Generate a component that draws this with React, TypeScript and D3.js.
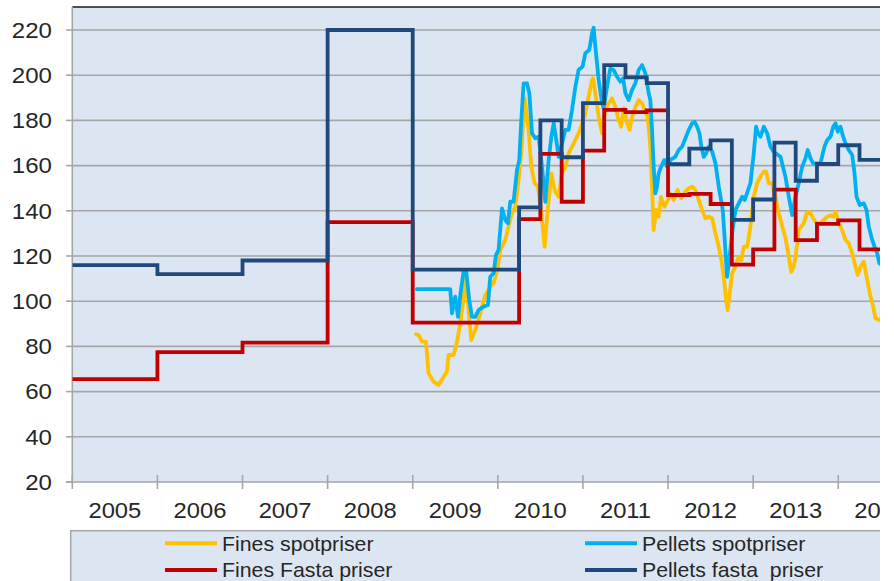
import React from 'react';
import * as d3 from 'd3';

// year axis
const years = [2005, 2006, 2007, 2008, 2009, 2010, 2011, 2012, 2013, 2014];
const yTicks = [20, 40, 60, 80, 100, 120, 140, 160, 180, 200, 220];

// fixed prices (step series), start of each price period
const fixedDates = [2005, 2006, 2007, 2008, 2009, 2010.25, 2010.5, 2010.75, 2011, 2011.25, 2011.5, 2011.75,
    2012, 2012.25, 2012.5, 2012.75, 2013, 2013.25, 2013.5, 2013.75, 2014, 2014.25, 2014.5];
const finesFixed = [65.5, 77.5, 81.7, 135, 90.5, 136.3, 165.2, 144, 166.6, 184.7, 183.7, 184.4,
    147, 147.5, 143, 116.2, 122.9, 149.4, 127, 134.2, 135.8, 122.9, 122.9];
const pelletsFixed = [116, 112, 118, 220, 114, 141.5, 180, 163.7, 187.6, 204.5, 199, 196.5,
    160.6, 167.5, 171.2, 136, 145, 170.2, 153.3, 160.7, 169, 162.5, 162.5];

// spot prices [decimal year, value]
const finesSpot: [number, number][] = [
    [2009.04, 85.4], [2009.07, 85], [2009.11, 82.1], [2009.155, 82.1], [2009.186, 68.1], [2009.245, 64.4],
    [2009.303, 62.9], [2009.343, 65.4], [2009.402, 68.8], [2009.421, 76.2], [2009.48, 76.2], [2009.52, 82.1],
    [2009.559, 90.2], [2009.597, 101.3], [2009.629, 110.8], [2009.656, 96.1], [2009.688, 82.8], [2009.735, 87.3],
    [2009.794, 94.6], [2009.853, 102.7], [2009.911, 106.4], [2009.95, 107.9], [2009.99, 113], [2010.029, 122.7],
    [2010.088, 127.1], [2010.126, 133], [2010.166, 138.9], [2010.205, 141.8], [2010.244, 153.6], [2010.276, 165.4],
    [2010.315, 189.8], [2010.362, 175.8], [2010.393, 159.5], [2010.432, 152.2], [2010.472, 150.7], [2010.511, 138.9],
    [2010.55, 124.1], [2010.59, 141.8], [2010.629, 156.6], [2010.667, 149.2], [2010.714, 146.2], [2010.754, 156.6],
    [2010.793, 159.5], [2010.832, 165.4], [2010.891, 169.9], [2010.931, 172.8], [2010.981, 177.2], [2011.028, 183.1],
    [2011.067, 190.5], [2011.107, 197.9], [2011.119, 198.6], [2011.146, 192], [2011.185, 181.6], [2011.225, 174.3],
    [2011.263, 184.6], [2011.302, 187.6], [2011.342, 189.8], [2011.381, 186], [2011.42, 180.2], [2011.448, 177.2],
    [2011.479, 185.4], [2011.519, 178.7], [2011.549, 175.8], [2011.577, 181.6], [2011.616, 186], [2011.655, 189],
    [2011.695, 187.6], [2011.734, 183.9], [2011.761, 181.6], [2011.792, 168.4], [2011.812, 150.7], [2011.831, 131.5],
    [2011.86, 140.4], [2011.89, 137.4], [2011.918, 146.2], [2011.957, 141.8], [2011.989, 144], [2012.028, 147.7],
    [2012.066, 144.8], [2012.113, 149.2], [2012.153, 145.5], [2012.204, 148.5], [2012.243, 150], [2012.283, 150.7],
    [2012.322, 149.2], [2012.36, 144.8], [2012.4, 140.4], [2012.439, 136.7], [2012.478, 137.4], [2012.518, 136.7],
    [2012.557, 130], [2012.596, 124.1], [2012.627, 118.2], [2012.654, 110.8], [2012.683, 100.5], [2012.701, 96.1],
    [2012.725, 103.5], [2012.753, 112.3], [2012.792, 115.3], [2012.831, 119.7], [2012.862, 118.2], [2012.889, 124.1],
    [2012.929, 124.1], [2012.968, 133], [2013.007, 146.2], [2013.047, 152.2], [2013.086, 155.1], [2013.125, 157.3],
    [2013.153, 157.3], [2013.183, 152.2], [2013.223, 152.2], [2013.262, 146.2], [2013.301, 138.9], [2013.321, 136],
    [2013.38, 128], [2013.419, 119.7], [2013.447, 113], [2013.477, 115.3], [2013.509, 122.7], [2013.536, 131.5],
    [2013.564, 133], [2013.595, 134.5], [2013.627, 138.9], [2013.666, 139.6], [2013.705, 136.7], [2013.744, 134.5],
    [2013.783, 134.5], [2013.83, 135.9], [2013.87, 137.4], [2013.909, 138.1], [2013.941, 137.4], [2013.968, 139.6],
    [2014.006, 134.5], [2014.046, 131.5], [2014.085, 127.1], [2014.124, 125.6], [2014.164, 121.2], [2014.203, 115.3],
    [2014.23, 111.6], [2014.262, 115.3], [2014.3, 117.5], [2014.34, 109.4], [2014.371, 103.5], [2014.411, 97.6],
    [2014.438, 92.4], [2014.477, 91.7], [2014.52, 93]
];

const pelletsSpot: [number, number][] = [
    [2009.049, 105.3], [2009.441, 105.3], [2009.461, 94.6], [2009.5, 102], [2009.532, 93.1], [2009.559, 102.7],
    [2009.597, 113], [2009.629, 113], [2009.664, 100.5], [2009.696, 93.1], [2009.735, 93.1], [2009.774, 96.1],
    [2009.833, 97.6], [2009.884, 98.3], [2009.911, 110.8], [2009.95, 112.3], [2009.978, 120.4], [2010.009, 122.7],
    [2010.049, 141.1], [2010.088, 135.9], [2010.119, 134.5], [2010.146, 144], [2010.185, 144], [2010.225, 158],
    [2010.252, 162.5], [2010.276, 180.2], [2010.303, 196.4], [2010.343, 196.4], [2010.37, 192], [2010.402, 174.3],
    [2010.44, 172.1], [2010.479, 172.8], [2010.511, 162.5], [2010.538, 152.2], [2010.558, 144], [2010.597, 162.5],
    [2010.629, 172.8], [2010.656, 178.7], [2010.687, 171.3], [2010.714, 163.9], [2010.746, 168.4], [2010.793, 175.8],
    [2010.832, 175.8], [2010.872, 184.6], [2010.911, 194.9], [2010.949, 202.3], [2010.996, 203.8], [2011.028, 209.7],
    [2011.075, 211.2], [2011.107, 218.5], [2011.126, 221], [2011.146, 212.6], [2011.185, 197.9], [2011.225, 187.6],
    [2011.243, 185.4], [2011.283, 194.9], [2011.322, 203], [2011.361, 202.3], [2011.401, 199.3], [2011.44, 197.1],
    [2011.472, 198.6], [2011.499, 192], [2011.537, 189], [2011.577, 193.5], [2011.616, 196.4], [2011.655, 202.3],
    [2011.695, 204.5], [2011.734, 200.8], [2011.773, 192], [2011.792, 189], [2011.812, 175.8], [2011.831, 159.5],
    [2011.851, 147.7], [2011.871, 150.7], [2011.89, 156.6], [2011.918, 159.5], [2011.957, 162.5], [2011.989, 159.5],
    [2012.028, 162.5], [2012.086, 163.9], [2012.125, 166.9], [2012.165, 168.4], [2012.204, 172], [2012.243, 175.8],
    [2012.283, 178.7], [2012.313, 179.4], [2012.342, 177.2], [2012.369, 174.3], [2012.392, 168.4], [2012.419, 163.9],
    [2012.447, 165.4], [2012.478, 168.4], [2012.518, 166.2], [2012.557, 161], [2012.596, 150.7], [2012.616, 146.2],
    [2012.643, 140.4], [2012.666, 127.1], [2012.694, 110.8], [2012.723, 119.7], [2012.753, 130], [2012.792, 140.4],
    [2012.831, 143.3], [2012.871, 146.2], [2012.901, 144.8], [2012.941, 149.2], [2012.968, 152.2], [2013.007, 165.4],
    [2013.035, 177.2], [2013.059, 174.3], [2013.086, 172.8], [2013.125, 177.2], [2013.165, 174.3], [2013.203, 168.4],
    [2013.242, 166], [2013.282, 165], [2013.321, 163.9], [2013.38, 155], [2013.419, 146.2], [2013.459, 138.1],
    [2013.497, 146.2], [2013.536, 152.2], [2013.576, 159.5], [2013.615, 163.2], [2013.642, 166.9], [2013.674, 163.2],
    [2013.705, 161], [2013.753, 161], [2013.791, 161], [2013.838, 168.4], [2013.87, 171.3], [2013.909, 172.8],
    [2013.941, 177.2], [2013.968, 178.7], [2013.995, 175], [2014.026, 177.2], [2014.058, 172.8], [2014.085, 169.9],
    [2014.124, 166.9], [2014.164, 164.7], [2014.191, 156.6], [2014.215, 146.2], [2014.253, 142.6], [2014.3, 143.3],
    [2014.332, 140.4], [2014.359, 133], [2014.399, 127.1], [2014.426, 124.1], [2014.458, 121.2], [2014.482, 116.8],
    [2014.52, 116]
];

const legendItems = [
    { label: 'Fines spotpriser', color: '#FFC000', col: 0, row: 0 },
    { label: 'Pellets spotpriser', color: '#00B0F0', col: 1, row: 0 },
    { label: 'Fines Fasta priser', color: '#C00000', col: 0, row: 1 },
    { label: 'Pellets fasta  priser', color: '#1F497D', col: 1, row: 1 },
];

const App: React.FC = () => {
    const width = 880;
    const height = 581;
    const left = 72.3;
    const top = 7;
    const bottom = 482;

    const x = d3.scaleLinear().domain([2005, 2014.5]).range([left, 880.8]);
    const y = d3.scaleLinear().domain([20, 220]).range([bottom, 30]);

    const spotLine = d3.line<[number, number]>()
        .x(d => x(d[0]))
        .y(d => y(d[1]))
        .curve(d3.curveLinear);

    const stepLine = d3.line<[number, number]>()
        .x(d => x(d[0]))
        .y(d => y(d[1]))
        .curve(d3.curveStepAfter);

    const finesFixedPts = fixedDates.map((t, i) => [t, finesFixed[i]] as [number, number]);
    const pelletsFixedPts = fixedDates.map((t, i) => [t, pelletsFixed[i]] as [number, number]);

    const font = '"Liberation Sans", Arial, sans-serif';
    const textColor = '#262626';
    const gridColor = '#A6A6A6';

    const legendLeft = [165, 585];
    const legendRow = [543.3, 570];

    return (
        <svg width={width} height={height} style={{ position: 'absolute', left: 0, top: 0 }}
            fontFamily={font}>
            <defs>
                <clipPath id="plotClip">
                    <rect x={left} y={top} width={width - left} height={bottom - top} />
                </clipPath>
            </defs>
            <rect x={0} y={0} width={width} height={height} fill="#ffffff" />
            {/* plot background */}
            <rect x={left} y={top} width={width - left} height={bottom - top} fill="#DCE6F2" />
            <line x1={left} x2={width} y1={top} y2={top} stroke="#1a1a1a" strokeWidth={1.3} />

            {/* grid lines */}
            {yTicks.filter(v => v > 20).map(v => (
                <line key={'g' + v} x1={left} x2={width} y1={y(v)} y2={y(v)} stroke={gridColor} strokeWidth={1.6} />
            ))}

            {/* y axis */}
            <line x1={left} x2={left} y1={top} y2={bottom} stroke={gridColor} strokeWidth={1.6} />
            {yTicks.map(v => (
                <g key={'yt' + v}>
                    <line x1={66} x2={left} y1={y(v)} y2={y(v)} stroke={gridColor} strokeWidth={1.6} />
                    <text transform={`translate(52,${y(v)}) scale(1.12,1)`} textAnchor="end" dy="0.36em"
                        fontSize={21.5} fill={textColor}>{v}</text>
                </g>
            ))}

            {/* x axis */}
            <line x1={66} x2={width} y1={bottom} y2={bottom} stroke={gridColor} strokeWidth={1.6} />
            {years.map(yr => (
                <g key={'xt' + yr}>
                    <line x1={x(yr)} x2={x(yr)} y1={475} y2={489} stroke={gridColor} strokeWidth={1.6} />
                    <text transform={`translate(${x(yr + 0.5)},518) scale(1.09,1)`} textAnchor="middle"
                        fontSize={21.8} fill={textColor}>{yr}</text>
                </g>
            ))}

            {/* series */}
            <g clipPath="url(#plotClip)" fill="none" strokeLinejoin="round" strokeLinecap="round">
                <path d={spotLine(finesSpot) || ''} stroke="#FFC000" strokeWidth={3.8} />
                <path d={spotLine(pelletsSpot) || ''} stroke="#00B0F0" strokeWidth={3.8} />
                <path d={stepLine(finesFixedPts) || ''} stroke="#C00000" strokeWidth={3.8} strokeLinejoin="miter" strokeLinecap="butt" />
                <path d={stepLine(pelletsFixedPts) || ''} stroke="#1F497D" strokeWidth={3.8} strokeLinejoin="miter" strokeLinecap="butt" />
            </g>

            {/* legend */}
            <rect x={70.7} y={530.7} width={width} height={80} fill="#DCE6F2" stroke={gridColor} strokeWidth={1.5} />
            {legendItems.map(item => (
                <g key={item.label}>
                    <line x1={legendLeft[item.col]} x2={legendLeft[item.col] + 52}
                        y1={legendRow[item.row]} y2={legendRow[item.row]}
                        stroke={item.color} strokeWidth={4} />
                    <text transform={`translate(${legendLeft[item.col] + 57},${legendRow[item.row] + 7.3}) scale(1.065,1)`}
                        fontSize={20} fill={textColor} style={{ whiteSpace: 'pre' }}>{item.label}</text>
                </g>
            ))}
        </svg>
    );
};

export default App;
